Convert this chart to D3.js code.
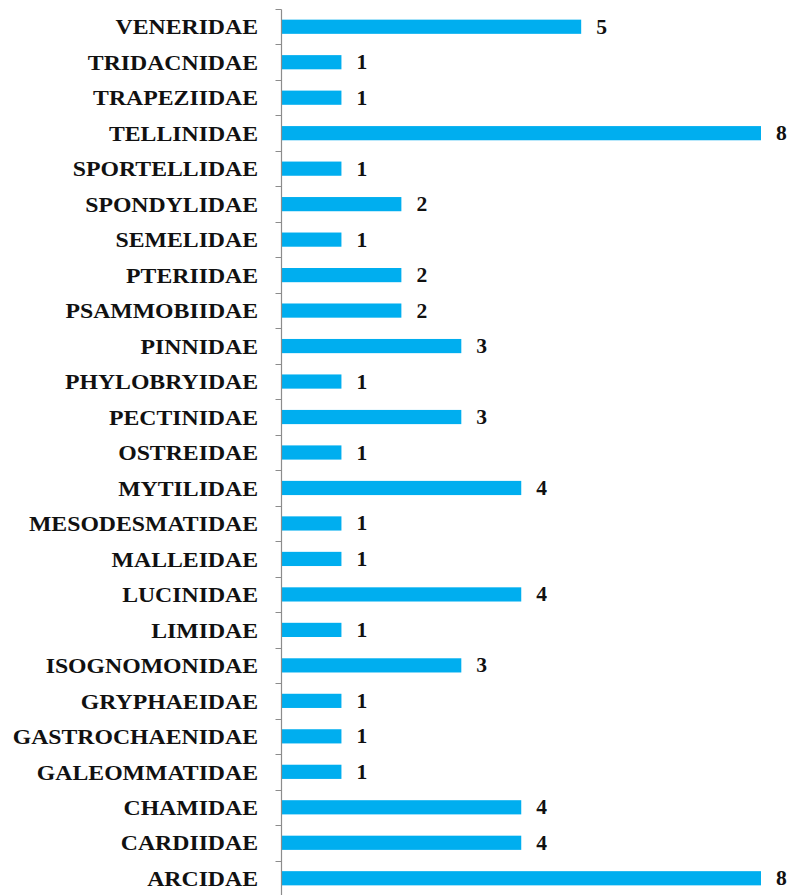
<!DOCTYPE html>
<html>
<head>
<meta charset="utf-8">
<script src="https://cdnjs.cloudflare.com/ajax/libs/d3/7.8.5/d3.min.js"></script>
<style>
  body { margin: 0; background: #fff; }
  svg { display: block; }
</style>
</head>
<body>
<svg id="chart" width="790" height="895"></svg>
<script>
// families, top to bottom as shown
var families = ["VENERIDAE", "TRIDACNIDAE", "TRAPEZIIDAE", "TELLINIDAE", "SPORTELLIDAE",
	"SPONDYLIDAE", "SEMELIDAE", "PTERIIDAE", "PSAMMOBIIDAE", "PINNIDAE", "PHYLOBRYIDAE",
	"PECTINIDAE", "OSTREIDAE", "MYTILIDAE", "MESODESMATIDAE", "MALLEIDAE", "LUCINIDAE",
	"LIMIDAE", "ISOGNOMONIDAE", "GRYPHAEIDAE", "GASTROCHAENIDAE", "GALEOMMATIDAE",
	"CHAMIDAE", "CARDIIDAE", "ARCIDAE"];
var counts = [5, 1, 1, 8, 1, 2, 1, 2, 2, 3, 1, 3, 1, 4, 1, 1, 4, 1, 3, 1, 1, 1, 4, 4, 8];
var xMax = 8;

var svg = d3.select("#chart");
var x0 = 281.5;

var x = d3.scaleLinear().domain([0, xMax]).range([x0, 761]);
var y = d3.scaleBand().domain(families).range([9, 896]).paddingInner(0.6).paddingOuter(0.3);

var step = y.step();
var bandTop = y(families[0]) - y.paddingOuter() * step;

// bars
svg.selectAll("rect.bar")
  .data(families)
  .enter()
  .append("rect")
	.attr("class", "bar")
	.attr("x", x(0))
	.attr("y", function(d){ return y(d); })
	.attr("width", function(d, i){ return x(counts[i]) - x(0); })
	.attr("height", y.bandwidth())
	.style("fill", "#00aeef");

// vertical axis line with ticks between categories
var bounds = d3.range(families.length + 1).map(function(i){ return Math.round(bandTop + i * step) + 0.5; });
svg.append("line")
  .attr("x1", x0).attr("x2", x0)
  .attr("y1", bounds[0]).attr("y2", 895)
  .style("stroke", "#8c8c8c").style("stroke-width", 1.2);
svg.selectAll("line.tick")
  .data(bounds)
  .enter()
  .append("line")
	.attr("class", "tick")
	.attr("x1", x0 - 6).attr("x2", x0)
	.attr("y1", function(d){ return d; }).attr("y2", function(d){ return d; })
	.style("stroke", "#8c8c8c").style("stroke-width", 1);

// category labels
svg.selectAll("text.cat")
  .data(families)
  .enter()
  .append("text")
	.attr("class", "cat")
	.attr("transform", function(d){ return "translate(258," + (y(d) + y.bandwidth() / 2) + ") scale(1.08,1)"; })
	.attr("text-anchor", "end")
	.attr("dy", "0.35em")
	.text(function(d){ return d; })
	.style("font-family", "'Liberation Serif', 'Times New Roman', serif")
	.style("font-weight", "bold")
	.style("font-size", "22px")
	.style("fill", "#111");

// value labels
svg.selectAll("text.val")
  .data(families)
  .enter()
  .append("text")
	.attr("class", "val")
	.attr("transform", function(d, i){ return "translate(" + (x(counts[i]) + 15) + "," + (y(d) + y.bandwidth() / 2) + ") scale(1.08,1)"; })
	.attr("dy", "0.35em")
	.text(function(d, i){ return counts[i]; })
	.style("font-family", "'Liberation Serif', 'Times New Roman', serif")
	.style("font-weight", "bold")
	.style("font-size", "20px")
	.style("fill", "#111");
</script>
</body>
</html>
